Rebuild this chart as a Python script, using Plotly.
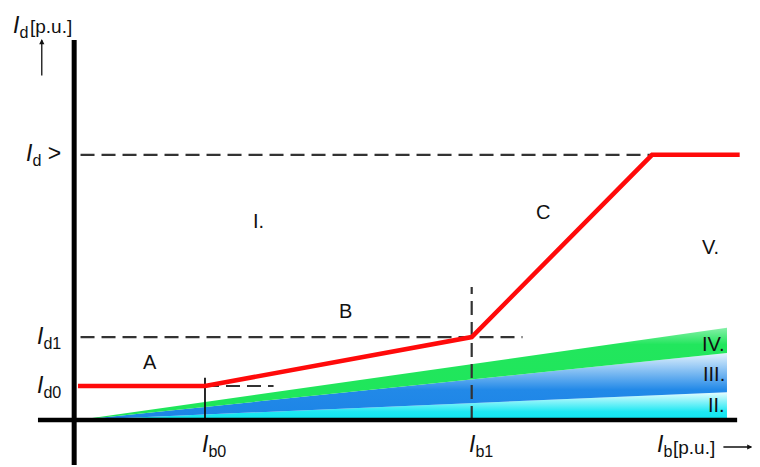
import plotly.graph_objects as go

# characteristic points (p.u.)
ib0 = 1.0
ib1 = 3.10
ib_knee = 4.52
ib_end = 5.21
id0 = 1.0
id1 = 2.44
id_gt = 7.8

red_x = [0, ib0, ib1, ib_knee, ib_end]
red_y = [id0, id0, id1, id_gt, id_gt]

# zone boundaries (fan from origin), value at right end of the bands
band_x_end = 5.11
band_edges = [0.0, 0.82, 1.97, 2.71]
band_names = ["II.", "III.", "IV."]
band_scales = [
    [[0, "#0ee4f0"], [0.3, "#1ee8f3"], [1, "#e8fdff"]],
    [[0, "#1c84e6"], [0.45, "#2289e8"], [1, "#e2f2fd"]],
    [[0, "#1ee65a"], [0.82, "#22e65d"], [1, "#86f0a8"]],
]

region_labels = ["A", "B", "C", "I.", "V."]
region_x = [0.57, 2.11, 3.66, 1.42, 4.98]
region_y = [1.71, 3.21, 6.12, 5.85, 5.09]

# guide line extents
dash_start = 0.02
id1_dash_end = 3.50
id0_dash_end = 1.54
ib1_dash_top = 3.91
ib0_tick_top = 1.24

FONT = "Liberation Sans"

fig = go.Figure()

# zone bands with vertical gradient
for lo, hi, cs in zip(band_edges[:-1], band_edges[1:], band_scales):
    fig.add_trace(go.Scatter(x=[0, band_x_end, band_x_end, 0], y=[0, lo, hi, 0],
                             fill="toself", mode="lines", line=dict(width=0),
                             fillgradient=dict(type="vertical", colorscale=cs, start=0, stop=hi),
                             hoverinfo="skip"))

dash_style = dict(color="#333333", width=2.2, dash="14px,7px")
fig.add_trace(go.Scatter(x=[dash_start, ib_knee], y=[id_gt, id_gt], mode="lines", line=dash_style))
fig.add_trace(go.Scatter(x=[dash_start, id1_dash_end], y=[id1, id1], mode="lines", line=dash_style))
fig.add_trace(go.Scatter(x=[ib0, id0_dash_end], y=[id0, id0], mode="lines", line=dash_style))
fig.add_trace(go.Scatter(x=[ib1, ib1], y=[0, ib1_dash_top], mode="lines", line=dash_style))
fig.add_trace(go.Scatter(x=[ib0, ib0], y=[0, ib0_tick_top], mode="lines",
                         line=dict(color="#111111", width=1.8)))

fig.add_trace(go.Scatter(x=red_x, y=red_y, mode="lines",
                         line=dict(color="#ff0a0a", width=4.5)))

# axes drawn as heavy lines
fig.add_shape(type="line", x0=-0.03, x1=-0.03, y0=-1.32, y1=11.18,
              line=dict(color="black", width=5))
fig.add_shape(type="line", x0=-0.315, x1=5.19, y0=0, y1=0,
              line=dict(color="black", width=4.5))

tf = dict(family=FONT, size=20, color="#111111")
lf = dict(family=FONT, size=23, color="#111111")
pf = dict(family=FONT, size=19, color="#111111")

for t, x, y in zip(region_labels, region_x, region_y):
    fig.add_annotation(x=x, y=y, text=t, showarrow=False, font=tf)

for t, lo, hi in zip(band_names, band_edges[:-1], band_edges[1:]):
    fig.add_annotation(x=band_x_end, y=(lo + hi) / 2 * 0.93 + 0.05, text=t, showarrow=False,
                       xanchor="right", font=tf)

# axis labels
for t, y in [("<i>I</i><sub>d</sub> >", id_gt), ("<i>I</i><sub>d1</sub>", id1), ("<i>I</i><sub>d0</sub>", id0)]:
    fig.add_annotation(x=-0.12, y=y, text=t, showarrow=False, xanchor="right", font=lf)

for t, x in [("<i>I</i><sub>b0</sub>", ib0), ("<i>I</i><sub>b1</sub>", ib1)]:
    fig.add_annotation(x=x, y=0, text=t, showarrow=False, xanchor="left",
                       xshift=-5, yshift=-25, font=lf)

# x-axis title
fig.add_annotation(x=ib_knee + 0.02, y=0, text="<i>I</i><sub>b</sub>",
                   showarrow=False, xanchor="left", yshift=-25, font=lf)
fig.add_annotation(x=4.70, y=0, text="[p.u.]", showarrow=False, xanchor="left",
                   xshift=-4, yshift=-27, font=pf)
fig.add_annotation(x=5.31, y=0, ax=5.07, ay=0, axref="x", ayref="y",
                   yshift=-27, text="", showarrow=True,
                   arrowhead=2, arrowsize=0.8, arrowwidth=1.3, arrowcolor="#111111")

# y-axis title
fig.add_annotation(x=-0.53, y=12.05, text="<i>I</i><sub>d</sub>",
                   showarrow=False, xanchor="left", yanchor="top", font=lf)
fig.add_annotation(x=-0.362, y=11.56, text="[p.u.]", showarrow=False, xanchor="left",
                   xshift=-4, font=pf)
fig.add_annotation(x=-0.285, y=(420 - 39) / 34, ax=0, ay=38, text="", showarrow=True,
                   arrowhead=2, arrowsize=0.8, arrowwidth=1.3, arrowcolor="#111111")

# page body adds an 8px offset, so the figure is sized to the remaining area
fig.update_layout(
    width=752, height=459,
    margin=dict(l=0, r=0, t=0, b=0),
    paper_bgcolor="white", plot_bgcolor="white",
    showlegend=False,
    xaxis=dict(range=[-0.551, 5.370], visible=False, fixedrange=True),
    yaxis=dict(range=[-1.382, 12.118], visible=False, fixedrange=True),
)

fig.write_html("out.html")
